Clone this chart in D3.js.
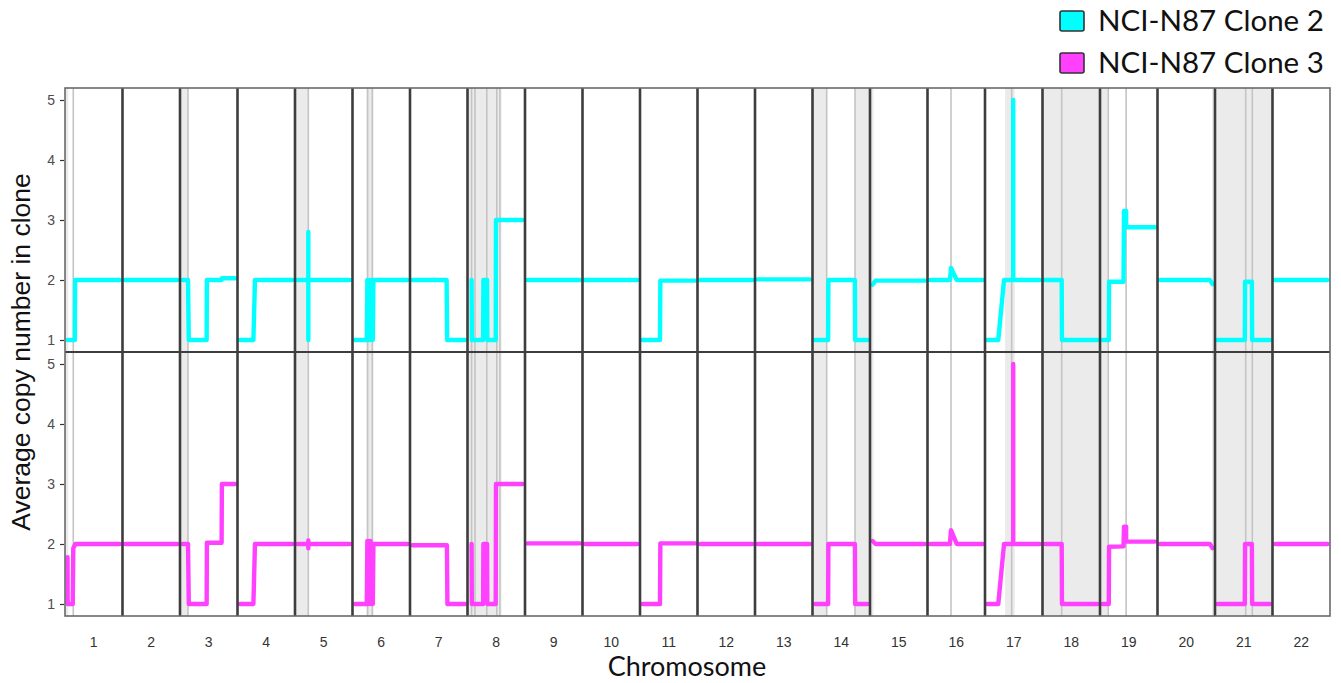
<!DOCTYPE html>
<html>
<head>
<meta charset="utf-8">
<script src="https://cdn.jsdelivr.net/npm/d3@7"></script>
<style>
  body { margin: 0; background: #fff; }
  svg { display: block; }
</style>
</head>
<body>
<svg id="chart" width="1341" height="683"></svg>
<script>
// ---------------- DATA ----------------
const chromosomes = ["1","2","3","4","5","6","7","8","9","10","11","12","13","14","15","16","17","18","19","20","21","22"];
const yTicks = [1, 2, 3, 4, 5];
const seriesNames = ["NCI-N87 Clone 2", "NCI-N87 Clone 3"];
const seriesColors = ["#00ffff", "#ff40ff"];

// [chromosome, relative position within chromosome (0-1), average copy number]
const clone2Points = [
  ["1",0,1],["1",0.14,1],["1",0.145,2],["1",1,2],
  ["2",0,2],["2",1,2],
  ["3",0,2],["3",0.105,2],["3",0.12,1],["3",0.46,1],["3",0.465,2],["3",0.745,2],["3",0.75,2.03],["3",1,2.03],
  ["4",0,1],["4",0.255,1],["4",0.285,2],["4",1,2],
  ["5",0,2],["5",0.206,2],["5",0.206,1],["5",0.206,2.8],["5",0.206,2],["5",1,2],
  ["6",0,1],["6",0.225,1],["6",0.235,2],["6",0.25,1],["6",0.265,2],["6",0.28,1],["6",0.295,2],["6",0.31,1],["6",0.325,2],["6",0.34,1],["6",0.35,2],["6",1,2],
  ["7",0,2],["7",0.65,2],["7",0.66,1],["7",1,1],
  ["8",0.03,2],["8",0.035,1],["8",0.25,1],["8",0.255,2],["8",0.325,2],["8",0.33,1],["8",0.49,1],["8",0.495,3],["8",1,3],
  ["9",0,2],["9",1,2],
  ["10",0,2],["10",1,2],
  ["11",0,1],["11",0.333,1],["11",0.34,1.99],["11",1,1.99],
  ["12",0,2],["12",1,2],
  ["13",0,2.01],["13",1,2.01],
  ["14",0,1],["14",0.25,1],["14",0.255,2],["14",0.76,2],["14",0.765,1],["14",1,1],
  ["15",0,1.92],["15",0.06,1.99],["15",1,1.99],
  ["16",0,2],["16",0.38,2],["16",0.4,2.2],["16",0.51,2],["16",1,2],
  ["17",0,1],["17",0.205,1],["17",0.315,2],["17",0.49,2],["17",0.49,5],["17",0.49,2],["17",1,2],
  ["18",0,2],["18",0.318,2],["18",0.323,1],["18",1,1],
  ["19",0,1],["19",0.12,1],["19",0.125,1.97],["19",0.40,1.97],["19",0.41,3.15],["19",0.45,3.15],["19",0.45,2.88],["19",1,2.88],
  ["20",0,2],["20",0.95,2],["20",1,1.93],
  ["21",0,1],["21",0.52,1],["21",0.525,1.97],["21",0.655,1.97],["21",0.66,1],["21",1,1],
  ["22",0,2],["22",1,2]
];

const clone3Points = [
  ["1",0,1.78],["1",0.003,1],["1",0.1,1],["1",0.11,1.93],["1",0.15,2],["1",1,2],
  ["2",0,2],["2",1,2],
  ["3",0,2],["3",0.105,2],["3",0.12,1],["3",0.46,1],["3",0.465,2.02],["3",0.745,2.02],["3",0.75,3],["3",1,3],
  ["4",0,1],["4",0.255,1],["4",0.285,2],["4",1,2],
  ["5",0,2],["5",0.206,2],["5",0.206,1.93],["5",0.206,2.06],["5",0.206,2],["5",1,2],
  ["6",0,1],["6",0.225,1],["6",0.235,2.05],["6",0.25,1],["6",0.265,2.05],["6",0.28,1],["6",0.295,2.05],["6",0.31,1],["6",0.325,2],["6",0.34,1],["6",0.35,2],["6",1,2],
  ["7",0,1.98],["7",0.655,1.98],["7",0.665,1],["7",1,1],
  ["8",0.03,2],["8",0.035,1],["8",0.25,1],["8",0.255,2],["8",0.325,2],["8",0.33,1],["8",0.49,1],["8",0.495,3],["8",1,3],
  ["9",0,2.01],["9",1,2.01],
  ["10",0,2],["10",1,2],
  ["11",0,1],["11",0.333,1],["11",0.34,2.01],["11",1,2.01],
  ["12",0,2],["12",1,2],
  ["13",0,2],["13",1,2],
  ["14",0,1],["14",0.25,1],["14",0.255,2],["14",0.76,2],["14",0.765,1],["14",1,1],
  ["15",0,2.05],["15",0.06,2],["15",1,2],
  ["16",0,2],["16",0.38,2],["16",0.4,2.23],["16",0.51,2],["16",1,2],
  ["17",0,1],["17",0.205,1],["17",0.315,2],["17",0.49,2],["17",0.49,5],["17",0.49,2],["17",1,2],
  ["18",0,2],["18",0.318,2],["18",0.323,1],["18",1,1],
  ["19",0,1],["19",0.12,1],["19",0.125,1.955],["19",0.40,1.96],["19",0.41,2.29],["19",0.45,2.29],["19",0.45,2.04],["19",1,2.04],
  ["20",0,2],["20",0.95,2],["20",1,1.93],
  ["21",0,1],["21",0.52,1],["21",0.525,2],["21",0.655,2],["21",0.66,1],["21",1,1],
  ["22",0,2],["22",1,2]
];

// shaded regions [chromosome, start, end] and grey marker lines [chromosome, position]
const shadedBands = [
  ["1",-0.1,0.015],["3",-0.1,0.105],["5",-0.1,0.206],["6",0.22,0.35],["8",-0.1,0.6],
  ["14",-0.1,0.223],["14",0.762,1.1],["15",-0.1,0.02],["17",0.335,0.52],["18",-0.1,1.1],
  ["19",-0.1,0.1],["20",0.99,1.1],["21",-0.1,1.1]
];
const bandLines = [
  ["1",0.11],["3",0.105],["5",0.206],["6",0.24],["6",0.33],
  ["8",0.03],["8",0.095],["8",0.32],["8",0.51],["8",0.57],
  ["14",0.223],["14",0.762],["16",0.4],["17",0.46],["18",0.318],
  ["19",0.11],["19",0.45],["21",0.537],["21",0.663]
];

// ---------------- LAYOUT ----------------
const svg = d3.select("#chart");
const plotLeft = 65, plotRight = 1330;
const panels = [
  { name: seriesNames[0], color: seriesColors[0], data: clone2Points, top: 88, bottom: 352 },
  { name: seriesNames[1], color: seriesColors[1], data: clone3Points, top: 352, bottom: 616 }
];

const xBand = d3.scaleBand().domain(chromosomes).range([plotLeft, plotRight]).padding(0);
const bw = xBand.bandwidth();
const innerX = c => d3.scaleLinear().domain([0, 1]).range([xBand(c) + 2.5, xBand(c) + bw - 2.5]);

const defs = svg.append("defs");
chromosomes.forEach((c, i) => {
  defs.append("clipPath").attr("id", "clip" + i)
    .append("rect").attr("x", xBand(c)).attr("y", 0).attr("width", bw).attr("height", 683);
});

panels.forEach((p, pi) => {
  const y = d3.scaleLinear().domain([0.8, 5.2]).range([p.bottom, p.top]);
  const g = svg.append("g");
  g.append("rect").attr("x", plotLeft).attr("y", p.top).attr("width", plotRight - plotLeft)
    .attr("height", p.bottom - p.top).attr("fill", "#fff");

  chromosomes.forEach((c, i) => {
    const xs = innerX(c);
    const cg = g.append("g").attr("clip-path", `url(#clip${i})`);
    shadedBands.filter(b => b[0] === c).forEach(b => {
      cg.append("rect").attr("x", xs(b[1])).attr("width", xs(b[2]) - xs(b[1]))
        .attr("y", p.top).attr("height", p.bottom - p.top).attr("fill", "#ebebeb");
    });
    bandLines.filter(b => b[0] === c).forEach(b => {
      cg.append("line").attr("x1", xs(b[1])).attr("x2", xs(b[1]))
        .attr("y1", p.top).attr("y2", p.bottom).attr("stroke", "#c4c4c4").attr("stroke-width", 1.6);
    });
    const pts = p.data.filter(d => d[0] === c);
    const line = d3.line().x(d => xs(d[1])).y(d => y(d[2]));
    cg.append("path").attr("d", line(pts)).attr("fill", "none")
      .attr("stroke", p.color).attr("stroke-width", 4.4)
      .attr("stroke-linejoin", "round").attr("stroke-linecap", "round");
  });

  // y axis
  const yAxis = d3.axisLeft(y).tickValues(yTicks).tickSize(4).tickPadding(5).tickFormat(d3.format("d"));
  const ag = svg.append("g").attr("transform", `translate(${plotLeft - 1},0)`).call(yAxis);
  ag.select(".domain").remove();
  ag.selectAll(".tick line").attr("stroke", "#333").attr("stroke-width", 1.2);
  ag.selectAll(".tick text").attr("fill", "#4d4d4d").style("font-family", "'Liberation Sans', Arial, sans-serif").style("font-size", "14px");
});

// chromosome separators and borders
const sepG = svg.append("g");
chromosomes.slice(1).forEach(c => {
  sepG.append("line").attr("x1", xBand(c)).attr("x2", xBand(c)).attr("y1", 88).attr("y2", 616)
    .attr("stroke", "#3d3d3d").attr("stroke-width", 2.6);
});
sepG.append("line").attr("x1", plotLeft).attr("x2", plotRight).attr("y1", 352).attr("y2", 352)
  .attr("stroke", "#3d3d3d").attr("stroke-width", 2.2);
sepG.append("rect").attr("x", plotLeft).attr("y", 88).attr("width", plotRight - plotLeft).attr("height", 616 - 88)
  .attr("fill", "none").attr("stroke", "#6a6a6a").attr("stroke-width", 1.6);

// x axis labels
const xAxis = d3.axisBottom(xBand).tickSize(0).tickPadding(21);
const xg = svg.append("g").attr("transform", "translate(0,616)").call(xAxis);
xg.select(".domain").remove();
xg.selectAll(".tick text").attr("fill", "#333").style("font-family", "'Liberation Sans', Arial, sans-serif").style("font-size", "14px");

// axis titles
svg.append("text").attr("x", 687).attr("y", 676).attr("text-anchor", "middle")
  .style("font-family", "Lato, 'Open Sans', sans-serif").style("font-size", "27px").attr("fill", "#111")
  .text("Chromosome");
svg.append("text").attr("transform", "translate(30,352) rotate(-90)").attr("text-anchor", "middle")
  .style("font-family", "'Liberation Sans', Arial, sans-serif").style("font-size", "26.5px").attr("fill", "#111")
  .text("Average copy number in clone");

// legend
const leg = svg.append("g");
seriesNames.forEach((n, i) => {
  const cy = 21 + i * 42;
  leg.append("rect").attr("x", 1060).attr("y", cy - 10).attr("width", 24).attr("height", 20)
    .attr("rx", 2).attr("fill", seriesColors[i]).attr("stroke", "#333").attr("stroke-width", 1.6);
  leg.append("text").attr("x", 1098).attr("y", cy + 10)
    .style("font-family", "Lato, 'Open Sans', sans-serif").style("font-size", "29.5px").attr("fill", "#111")
    .text(n);
});
</script>
</body>
</html>
